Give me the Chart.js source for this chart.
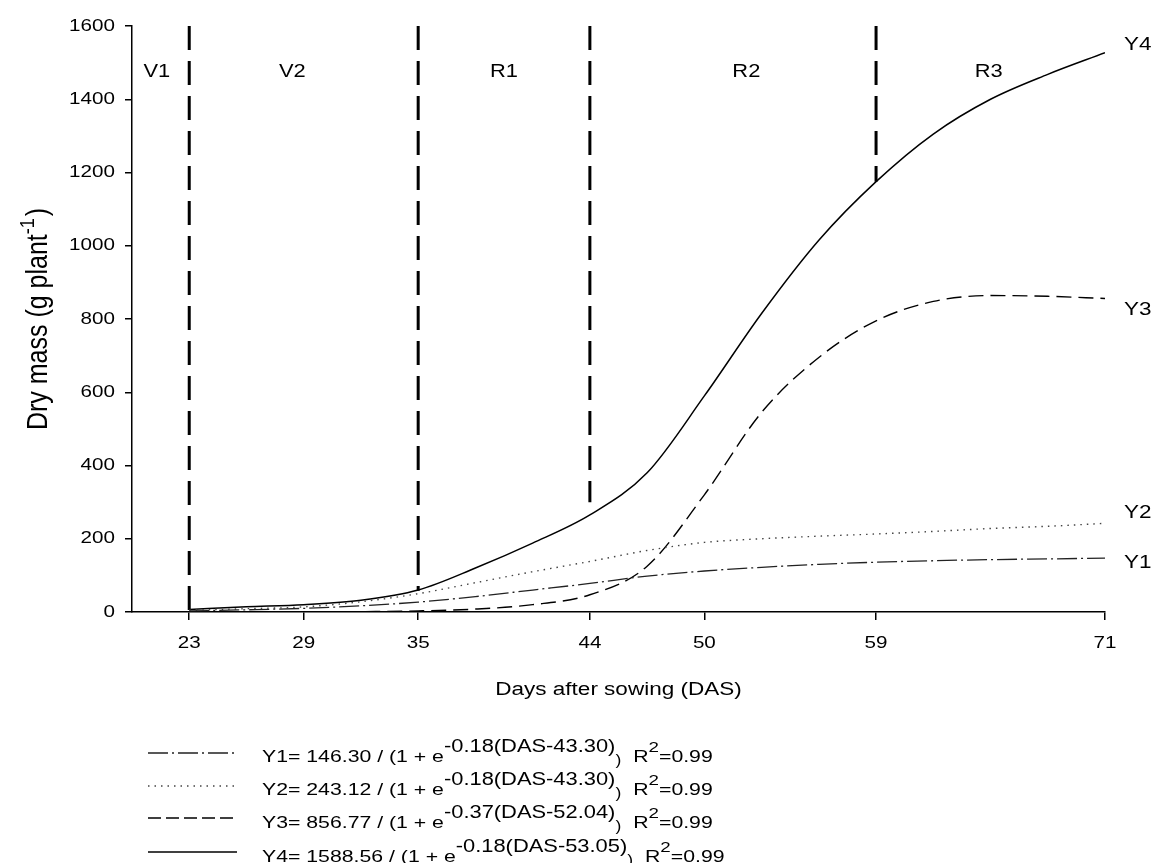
<!DOCTYPE html>
<html>
<head>
<meta charset="utf-8">
<title>Dry mass</title>
<script src="https://cdn.jsdelivr.net/npm/chart.js@4.4.0/dist/chart.umd.min.js"></script>
<style>
    html, body { margin: 0; padding: 0; background: #fff; }
    canvas { display: block; }
</style>
</head>
<body>
<canvas id="myChart" width="1154" height="863"></canvas>
<script>
// sampling days (DAS) and dry mass per organ group, g plant-1
const days = [23, 26, 29, 32, 35, 38, 41, 44, 47, 50, 53, 56, 59, 62, 65, 68, 71];
const y1Values = [3, 6, 10, 17, 27, 42, 60, 78, 98, 112, 122, 130, 136, 140, 143, 145, 147];
const y2Values = [5, 9, 14, 28, 50, 80, 110, 138, 168, 190, 200, 207, 213, 220, 228, 234, 242];
const y3Values = [0, 0, 0, 1, 3, 8, 20, 47, 125, 320, 545, 695, 795, 848, 864, 862, 856];
const y4Values = [7, 14, 20, 32, 60, 120, 188, 265, 380, 590, 815, 1015, 1175, 1305, 1400, 1468, 1527];

const xTicks = [23, 29, 35, 44, 50, 59, 71];

// phenological stage boundaries
const stageDays = [23, 35, 44, 59];
const stageLineBottoms = [0, 58, 300, 1175];
const stageNames = ['V1', 'V2', 'R1', 'R2', 'R3'];
const stageNameDays = [21.3, 28.4, 39.5, 52.2, 64.9];
const stageNameLevel = 1475;

const seriesNames = ['Y1', 'Y2', 'Y3', 'Y4'];
const seriesLabelDay = 72;
const seriesLabelValues = [134, 270, 825, 1549];

// logistic fit parameters shown in the key
const fitA = ['146.30', '243.12', '856.77', '1588.56'];
const fitB = ['-0.18', '-0.18', '-0.37', '-0.18'];
const fitC = ['43.30', '43.30', '52.04', '53.05'];
const fitR2 = ['0.99', '0.99', '0.99', '0.99'];

const FONT = '"Liberation Sans", Arial, Helvetica, sans-serif';
const STRETCH = 1.25;

const lineStyles = [
    { dash: [20, 4, 2, 4], legendDash: [20, 4, 2, 4], color: '#222', width: 1.3 },
    { dash: [1.5, 5], legendDash: [1.5, 5], color: '#444', width: 1.4 },
    { dash: [15, 7], legendDash: [13, 5], color: '#000', width: 1.4 },
    { dash: [], legendDash: [], color: '#000', width: 1.5 }
];

function toPoints(values) {
    return days.map((d, i) => ({ x: d, y: values[i] }));
}

function drawWide(ctx, text, x, y, size, align, sx, sy) {
    sx = sx || STRETCH;
    sy = sy || 1;
    ctx.save();
    ctx.font = size + 'px ' + FONT;
    ctx.textBaseline = 'middle';
    ctx.textAlign = 'left';
    const w = ctx.measureText(text).width * sx;
    let x0 = x;
    if (align === 'center') x0 = x - w / 2;
    if (align === 'right') x0 = x - w;
    ctx.translate(x0, y);
    ctx.scale(sx, sy);
    ctx.fillStyle = '#000';
    ctx.fillText(text, 0, 0);
    ctx.restore();
    return w;
}

function runsWidth(ctx, runs, sx) {
    let w = 0;
    runs.forEach(r => {
        ctx.font = r.size + 'px ' + FONT;
        w += ctx.measureText(r.text).width * sx + (r.gap || 0);
    });
    return w;
}

function drawRuns(ctx, runs, x, y, sx, sy) {
    runs.forEach(r => {
        x += (r.gap || 0);
        x += drawWide(ctx, r.text, x, y + (r.dy || 0), r.size, 'left', sx, sy);
    });
    return x;
}

const textPlugin = {
    id: 'textPlugin',
    afterDraw(chart) {
        const ctx = chart.ctx;
        const xs = chart.scales.x;
        const ys = chart.scales.y;
        const area = chart.chartArea;

        // tick labels
        ys.ticks.forEach(t => {
            drawWide(ctx, String(t.value), area.left - 17, ys.getPixelForValue(t.value), 16.5, 'right');
        });
        xs.ticks.forEach(t => {
            drawWide(ctx, String(t.value), xs.getPixelForValue(t.value), area.bottom + 31, 16.5, 'center');
        });

        // stage names
        stageNames.forEach((s, i) => {
            drawWide(ctx, s, xs.getPixelForValue(stageNameDays[i]), ys.getPixelForValue(stageNameLevel), 17.5, 'center');
        });

        // curve names at the right
        seriesNames.forEach((s, i) => {
            drawWide(ctx, s, xs.getPixelForValue(seriesLabelDay), ys.getPixelForValue(seriesLabelValues[i]), 18, 'left');
        });

        // axis titles
        drawWide(ctx, 'Days after sowing (DAS)', (area.left + area.right) / 2, 690, 18, 'center');

        ctx.save();
        ctx.translate(39, (area.top + area.bottom) / 2);
        ctx.rotate(-Math.PI / 2);
        const titleRuns = [
            { text: 'Dry mass (g plant', size: 25 },
            { text: '-1', size: 18, dy: -11 },
            { text: ')', size: 25, gap: 2 }
        ];
        const tw = runsWidth(ctx, titleRuns, 1);
        drawRuns(ctx, titleRuns, -tw / 2, 0, 1, 1.15);
        ctx.restore();

        // key with the fitted equations
        const rowY = [757, 790, 823, 857];
        const sampleY = [753, 786, 818, 852];
        for (let i = 0; i < 4; i++) {
            const st = lineStyles[i];
            ctx.save();
            ctx.strokeStyle = st.color;
            ctx.lineWidth = st.width;
            ctx.setLineDash(st.legendDash);
            ctx.beginPath();
            ctx.moveTo(148, sampleY[i]);
            ctx.lineTo(237, sampleY[i]);
            ctx.stroke();
            ctx.restore();

            drawRuns(ctx, [
                { text: seriesNames[i] + '= ' + fitA[i] + ' / (1 + e', size: 17 },
                { text: fitB[i] + '(DAS-' + fitC[i] + ')', size: 17.5, dy: -10 },
                { text: ')', size: 14, dy: 4 },
                { text: 'R', size: 17, gap: 12 },
                { text: '2', size: 15, dy: -9 },
                { text: '=' + fitR2[i], size: 17 }
            ], 262, rowY[i]);
        }
    }
};

const curveSets = [y1Values, y2Values, y3Values, y4Values].map((vals, i) => ({
    label: seriesNames[i],
    data: toPoints(vals),
    borderColor: lineStyles[i].color,
    borderWidth: lineStyles[i].width,
    borderDash: lineStyles[i].dash,
    pointRadius: 0,
    tension: 0.4,
    cubicInterpolationMode: 'monotone',
    fill: false
}));

const stageSets = stageDays.map((d, i) => ({
    label: 'stage ' + d,
    data: [{ x: d, y: 1600 }, { x: d, y: stageLineBottoms[i] }],
    borderColor: '#000',
    borderWidth: 3,
    borderDash: [24, 11],
    pointRadius: 0,
    tension: 0,
    fill: false
}));

new Chart(document.getElementById('myChart'), {
    type: 'line',
    data: { datasets: [...curveSets, ...stageSets] },
    options: {
        responsive: false,
        animation: false,
        events: [],
        layout: { padding: { left: 125, right: 49, top: 26, bottom: 243 } },
        plugins: {
            legend: { display: false },
            tooltip: { enabled: false }
        },
        scales: {
            x: {
                type: 'linear',
                min: 20,
                max: 71,
                afterBuildTicks: (scale) => {
                    scale.ticks = xTicks.map(v => ({ value: v }));
                },
                ticks: { display: false },
                grid: { display: true, drawOnChartArea: false, drawTicks: true, tickLength: 8, color: '#000', lineWidth: 1.5 },
                border: { display: true, color: '#000', width: 1.5 }
            },
            y: {
                min: 0,
                max: 1600,
                ticks: { display: false, stepSize: 200 },
                grid: { display: true, drawOnChartArea: false, drawTicks: true, tickLength: 7, color: '#000', lineWidth: 1.5 },
                border: { display: true, color: '#000', width: 1.5 }
            }
        }
    },
    plugins: [textPlugin]
});
</script>
</body>
</html>
